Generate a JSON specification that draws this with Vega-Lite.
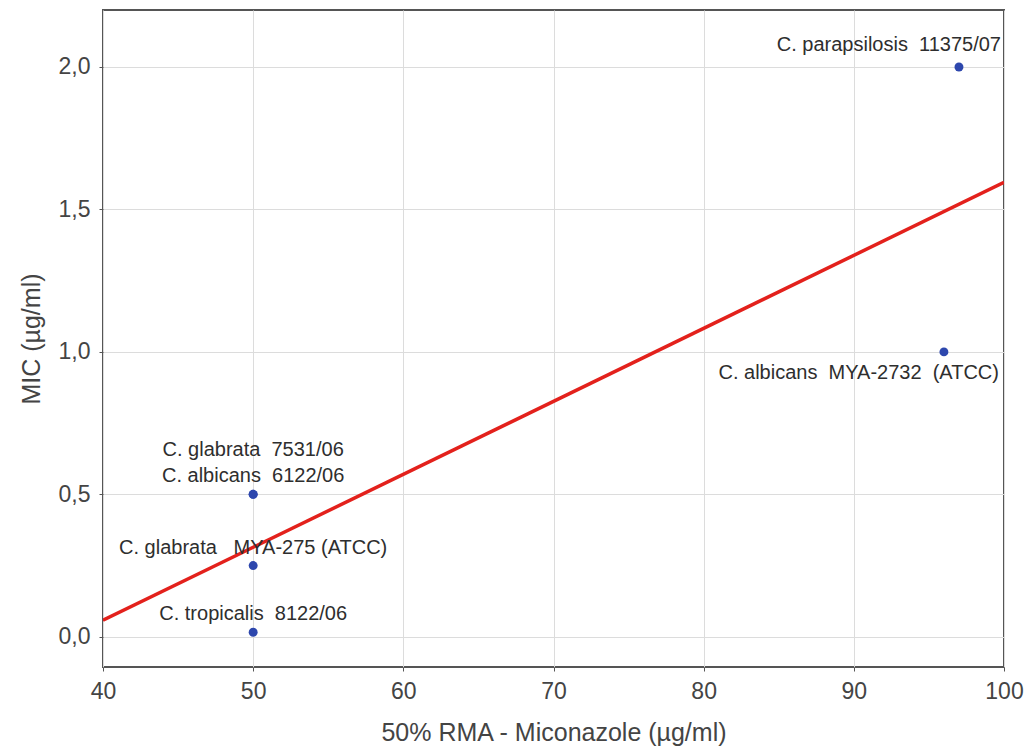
{
  "$schema": "https://vega.github.io/schema/vega-lite/v6.json",
  "width": 901,
  "height": 657,
  "autosize": {"type": "none"},
  "padding": {"left": 103, "top": 10, "right": 23, "bottom": 86},
  "background": "white",
  "config": {
    "font": "Liberation Sans",
    "view": {"stroke": "#555", "strokeWidth": 2},
    "axis": {
      "domain": false,
      "grid": true,
      "gridColor": "#dcdcdc",
      "gridWidth": 1,
      "tickColor": "#555",
      "tickSize": 4,
      "labelFont": "Liberation Sans",
      "labelFontSize": 23,
      "labelColor": "#444",
      "titleFont": "Liberation Sans",
      "titleFontSize": 25,
      "titleFontWeight": "normal",
      "titleColor": "#444"
    }
  },
  "datasets": {
    "pts": [
      {"rma": 50, "mic": 0.016, "strain": "C. tropicalis 8122/06"},
      {"rma": 50, "mic": 0.25, "strain": "C. glabrata MYA-275 (ATCC)"},
      {"rma": 50, "mic": 0.5, "strain": "C. glabrata 7531/06"},
      {"rma": 50, "mic": 0.5, "strain": "C. albicans 6122/06"},
      {"rma": 97, "mic": 2.0, "strain": "C. parapsilosis 11375/07"},
      {"rma": 96, "mic": 1.0, "strain": "C. albicans MYA-2732 (ATCC)"}
    ],
    "fit": [
      {"rma": 40, "mic": 0.058},
      {"rma": 100, "mic": 1.595}
    ],
    "labs": [
      {"rma": 50, "mic": 0.016, "label": "C. tropicalis\u00a0 8122/06", "pos": "c"},
      {"rma": 50, "mic": 0.25, "label": "C. glabrata\u00a0 \u00a0MYA-275 (ATCC)", "pos": "c"},
      {"rma": 50, "mic": 0.5, "label": "C. albicans\u00a0 6122/06", "pos": "c"},
      {"rma": 50, "mic": 0.5, "label": "C. glabrata\u00a0 7531/06", "pos": "c2"},
      {"rma": 97, "mic": 2.0, "label": "C. parapsilosis\u00a0 11375/07", "pos": "tr"},
      {"rma": 96, "mic": 1.0, "label": "C. albicans\u00a0 MYA-2732\u00a0 (ATCC)", "pos": "br"}
    ]
  },
  "layer": [
    {
      "data": {"name": "fit"},
      "mark": {"type": "line", "color": "#e3211c", "strokeWidth": 3.5, "clip": true},
      "encoding": {
        "x": {
          "field": "rma", "type": "quantitative",
          "scale": {"domain": [40, 100], "nice": false, "zero": false},
          "axis": {
            "title": "50% RMA - Miconazole (µg/ml)",
            "values": [40, 50, 60, 70, 80, 90, 100],
            "labelFlush": false,
            "labelOverlap": false,
            "labelPadding": 9,
            "titlePadding": 17
          }
        },
        "y": {
          "field": "mic", "type": "quantitative",
          "scale": {"domain": [-0.106, 2.2], "nice": false, "zero": false},
          "axis": {
            "title": "MIC (µg/ml)",
            "values": [0, 0.5, 1, 1.5, 2],
            "labelExpr": "replace(format(datum.value, '.1f'), '.', ',')",
            "labelPadding": 9,
            "titlePadding": 14
          }
        }
      }
    },
    {
      "data": {"name": "pts"},
      "mark": {"type": "point", "filled": true, "color": "#2d47ad", "size": 80, "opacity": 1},
      "encoding": {
        "x": {"field": "rma", "type": "quantitative"},
        "y": {"field": "mic", "type": "quantitative"}
      }
    },
    {
      "data": {"name": "labs"},
      "transform": [{"filter": "datum.pos == 'c'"}],
      "mark": {"type": "text", "align": "center", "baseline": "middle", "dy": -18, "fontSize": 20, "color": "#2e2e2e"},
      "encoding": {
        "x": {"field": "rma", "type": "quantitative"},
        "y": {"field": "mic", "type": "quantitative"},
        "text": {"field": "label"}
      }
    },
    {
      "data": {"name": "labs"},
      "transform": [{"filter": "datum.pos == 'c2'"}],
      "mark": {"type": "text", "align": "center", "baseline": "middle", "dy": -44, "fontSize": 20, "color": "#2e2e2e"},
      "encoding": {
        "x": {"field": "rma", "type": "quantitative"},
        "y": {"field": "mic", "type": "quantitative"},
        "text": {"field": "label"}
      }
    },
    {
      "data": {"name": "labs"},
      "transform": [{"filter": "datum.pos == 'tr'"}],
      "mark": {"type": "text", "align": "right", "baseline": "middle", "dx": 42, "dy": -22, "fontSize": 20, "color": "#2e2e2e"},
      "encoding": {
        "x": {"field": "rma", "type": "quantitative"},
        "y": {"field": "mic", "type": "quantitative"},
        "text": {"field": "label"}
      }
    },
    {
      "data": {"name": "labs"},
      "transform": [{"filter": "datum.pos == 'br'"}],
      "mark": {"type": "text", "align": "right", "baseline": "middle", "dx": 55, "dy": 21, "fontSize": 20, "color": "#2e2e2e"},
      "encoding": {
        "x": {"field": "rma", "type": "quantitative"},
        "y": {"field": "mic", "type": "quantitative"},
        "text": {"field": "label"}
      }
    }
  ]
}
